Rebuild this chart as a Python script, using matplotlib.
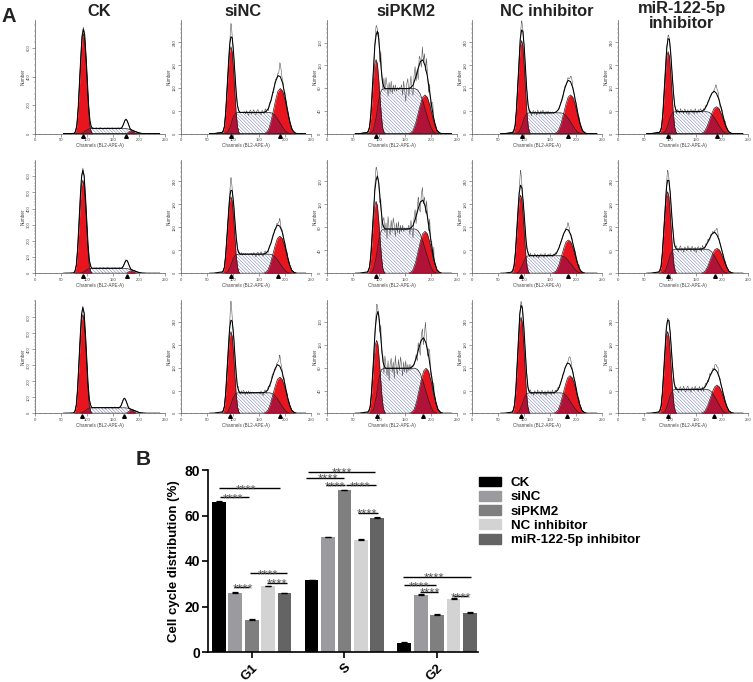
import numpy as np
import matplotlib
matplotlib.use('Agg')
import matplotlib.pyplot as plt
from matplotlib.patches import Patch

plt.rcParams['font.family'] = ['Liberation Sans', 'DejaVu Sans']
plt.rcParams['hatch.linewidth'] = 0.35

W, H = 753, 682

# ---- panel A, values, rows are the three repeats
columns = ['CK', 'siNC', 'siPKM2', 'NC inhibitor', 'miR-122-5p\ninhibitor']
title_x = [99, 243, 406, 547, 682]
title_y = [11, 11, 12, 12, 16]
col_left = [35, 181, 326.7, 472.2, 618.2]
row_base = [133.7, 273.3, 413.3]
row_top = [20, 160, 300]

# pixels per count on each y axis
ppu = [[0.143, 0.38, 0.57, 0.38, 0.38],
       [0.162, 0.383, 0.575, 0.383, 0.383],
       [0.160, 0.38, 0.57, 0.38, 0.38]]
yticks = [[[0, 200, 400, 600], [0, 60, 120, 180, 240], [0, 40, 80, 120, 160], [0, 60, 120, 180, 240], [0, 60, 120, 180, 240]],
          [[0, 100, 200, 300, 400, 500, 600], [0, 60, 120, 180, 240], [0, 40, 80, 120, 160], [0, 60, 120, 180, 240], [0, 60, 120, 180, 240]],
          [[0, 100, 200, 300, 400, 500, 600], [0, 60, 120, 180, 240], [0, 40, 80, 120, 160], [0, 60, 120, 180, 240], [0, 60, 120, 180, 240]]]

g1_pos = [[93, 96, 95, 95, 96], [92, 96, 95, 93, 95], [92, 96, 96, 94, 95]]
g1_red = [[700, 229, 130, 245, 216], [575, 200, 125, 204, 213], [618, 215, 128, 253, 215]]
g1_total = [[730, 255, 173, 273, 250], [635, 217, 162, 230, 243], [660, 245, 171, 284, 245]]
g1_raw = [[745, 290, 189, 297, 260], [650, 250, 184, 269, 269], [670, 295, 191, 295, 250]]
s_level = [[37, 56, 79, 55, 58], [31, 50, 77, 46, 63], [35, 54, 79, 54, 63]]
g2_pos = [[185, 191, 189, 189, 189], [185, 190, 189, 185, 190], [185, 190, 191, 188, 190]]
g2_red = [[20, 119, 68, 102, 71], [15, 97, 73, 87, 65], [20, 95, 79, 99, 74]]
g2_total = [[90, 150, 120, 137, 106], [72, 123, 118, 113, 100], [83, 124, 123, 129, 110]]
g2_raw = [[92, 180, 130, 152, 126], [76, 139, 129, 129, 115], [86, 146, 139, 149, 127]]
# second black triangle under the axis, None where the picture has none
g2_mark = [[175, 190, None, 185, 190], [176, 187, None, 185, 187], [172, 190, 186, 183, 184]]
g1_mark = [[93, 96, 95, 95, 96], [92, 96, 95, 93, 95], [91, 95, 96, 94, 95]]

# curve shapes (bell of a peak, shoulder of the S phase)
peak_off = [-14, -12, -10, -8, -6, -4, -2, 0, 2, 4, 6, 8, 10, 12, 14]
peak_shape = [0, 0.02, 0.08, 0.24, 0.48, 0.74, 0.94, 1, 0.94, 0.74, 0.48, 0.24, 0.08, 0.02, 0]
g1_widen = 1.25
g2_widen = 2.3
s_chan = [84, 90, 95, 100, 105, 110, 170, 175, 180, 185, 190, 195, 200, 205, 212]
s_shape = [0, 0.08, 0.35, 0.75, 0.97, 1, 1, 0.97, 0.88, 0.72, 0.52, 0.32, 0.15, 0.04, 0]
debris_chan = [62, 68, 74, 80, 84]
debris_frac = [0, 0.004, 0.01, 0.01, 0]

# jagged deviation of the raw trace around the fitted line, channel 100 up in steps of 2
jag = [0.3, -0.5, 0.6, -0.2, -1.0, 0.4, 0.8, -0.6, 0.2, 0.9, -0.3, -0.8, 0.5, 1.0, -0.4, 0.1, -0.9, 0.7,
       0.2, -0.5, 1.0, -0.2, 0.4, -0.7, 0.9, 0.1, -0.6, 0.6, -1.0, 0.3, 0.8, -0.3, 0.5, -0.8, 1.0, 0.0,
       -0.5, 0.7, -0.2, 0.9, 0.3, -0.6, 0.5, -0.3, 0.6, -0.4, 0.3, -0.2, 0.3, -0.2, 0.1, -0.1, 0.1, 0.0]
jag_start = 100
jag_step = 2

red = '#e8151f'
dark_red = '#b01238'
hatch_col = '#6f7bb0'
axis_col = '#555555'

# ---- panel B
groups = ['G1', 'S', 'G2']
series = ['CK', 'siNC', 'siPKM2', 'NC inhibitor', 'miR-122-5p inhibitor']
bar_colors = ['#000000', '#9b9b9f', '#7f7f7f', '#d3d3d3', '#646464']
means = [[66.0, 26.0, 14.2, 28.8, 25.8],
         [31.5, 50.4, 71.0, 49.2, 58.7],
         [4.0, 25.0, 16.2, 23.4, 17.2]]
errs = [[0.5, 0.4, 0.2, 0.4, 0.2],
        [0.1, 0.3, 0.3, 0.3, 0.6],
        [0.2, 0.7, 0.3, 0.2, 0.4]]
# group, from bar, to bar, height, where the stars sit (in bars)
brackets = [(0, 0.0, 3.73, 72.0, 1.63), (0, 0.06, 1.85, 68.0, 0.88), (0, 0.9, 1.85, 28.4, 1.45),
            (0, 1.9, 4.14, 34.6, 3.02), (0, 2.96, 4.14, 30.5, 3.55),
            (1, -0.2, 3.86, 79.3, 1.84), (1, -0.37, 1.98, 76.6, 0.98), (1, 0.9, 2.02, 73.3, 1.43),
            (1, 2.08, 3.9, 73.3, 2.96), (1, 2.8, 4.04, 61.2, 3.4),
            (2, -0.06, 4.04, 33.0, 1.82), (2, 0.0, 1.94, 29.4, 0.92), (2, 0.96, 2.06, 26.5, 1.57),
            (2, 2.96, 3.9, 24.6, 3.45)]


def px_axes(fig, left, top, right, bottom):
    return fig.add_axes([left / W, 1 - bottom / H, (right - left) / W, (bottom - top) / H])


def peak(grid, pos, height, scale=1.0):
    return height * np.interp(grid, pos + np.array(peak_off) * scale, peak_shape)


def histogram(ax, r, c, ymax):
    grid = np.arange(55, 240, 0.5)
    s = s_level[r][c] * np.interp(grid, s_chan, s_shape)
    g1 = peak(grid, g1_pos[r][c], g1_red[r][c], g1_widen)
    g2 = peak(grid, g2_pos[r][c], g2_red[r][c], g2_widen if c else 0.9)
    # the fitted total sits on top of the S phase
    s_at_g2 = s_level[r][c] * np.interp(g2_pos[r][c], s_chan, s_shape)
    s_at_g1 = s_level[r][c] * np.interp(g1_pos[r][c], s_chan, s_shape)
    g1_t = peak(grid, g1_pos[r][c], g1_total[r][c] - s_at_g1, g1_widen)
    hump_pos = g2_pos[r][c] if c else g2_mark[r][c]
    g2_t = peak(grid, hump_pos, g2_total[r][c] - s_at_g2, g2_widen if c else 0.8)
    debris = ymax * np.interp(grid, debris_chan, debris_frac) * (0.3 if c == 0 else 1)
    total = g1_t + s + g2_t + debris

    raw = total.copy()
    rolled = np.roll(jag, r * 7 + c * 11)
    amp = s_level[r][c] * (0.28 if c == 2 else 0.14)
    dev = np.interp(grid, jag_start + jag_step * np.arange(len(jag)), rolled, left=0, right=0)
    raw = raw + amp * dev
    raw = raw + peak(grid, g1_pos[r][c], g1_raw[r][c] - g1_total[r][c], 0.3)
    raw = raw + peak(grid, hump_pos, g2_raw[r][c] - g2_total[r][c], 0.5)
    raw = np.clip(raw, 0, None)

    ax.fill_between(grid, 0, s, facecolor='white', edgecolor=hatch_col, hatch='\\' * 10, lw=0, zorder=1)
    ax.fill_between(grid, 0, g1, color=red, lw=0, zorder=2)
    ax.fill_between(grid, 0, g2, color=red, lw=0, zorder=2)
    ax.fill_between(grid, 0, np.minimum(g1, s), color=dark_red, lw=0, zorder=3)
    ax.fill_between(grid, 0, np.minimum(g2, s), color=dark_red, lw=0, zorder=3)
    ax.plot(grid, raw, color='#555555', lw=0.4, zorder=4)
    for curve in (g1, g2, s):
        ax.plot(grid, curve, color='#222222', lw=0.5, zorder=5)
    ax.plot(grid, total, color='black', lw=0.75, zorder=6)

    for mark in (g1_mark[r][c], g2_mark[r][c]):
        if mark is not None:
            ax.plot([mark], [-0.022 * ymax], marker='^', ms=2.6, color='black', clip_on=False, zorder=7)


fig = plt.figure(figsize=(W / 100, H / 100), dpi=100)

for r in range(3):
    for c in range(5):
        left = col_left[c]
        ax = px_axes(fig, left, row_top[r], left + 130, row_base[r])
        ymax = (row_base[r] - row_top[r]) / ppu[r][c]
        histogram(ax, r, c, ymax)
        ax.set_xlim(0, 250)
        ax.set_ylim(0, ymax)
        ax.patch.set_alpha(0)
        for side in ('top', 'right'):
            ax.spines[side].set_visible(False)
        for side in ('left', 'bottom'):
            ax.spines[side].set_color(axis_col)
            ax.spines[side].set_linewidth(0.5)
        ax.set_xticks([0, 50, 100, 150, 200, 250])
        ax.set_xticks(np.arange(0, 251, 10), minor=True)
        ax.set_yticks(yticks[r][c])
        step = yticks[r][c][1]
        ax.set_yticks(np.arange(0, ymax, step / 5), minor=True)
        ax.tick_params(which='major', length=2, width=0.4, color=axis_col, labelsize=3, labelcolor='#444444', pad=1.2)
        ax.tick_params(which='minor', length=1, width=0.3, color=axis_col)
        ax.tick_params(axis='y', labelrotation=90)
        for t in ax.get_yticklabels():
            t.set_va('center')
        ax.set_xlabel('Channels (BL2-APE-A)', fontsize=3.3, color='#444444', labelpad=0.8)
        ax.set_ylabel('Number', fontsize=3.3, color='#444444', labelpad=0.5)

for name, x, y in zip(columns, title_x, title_y):
    fig.text(x / W, 1 - y / H, name, fontsize=11.8, fontweight='bold', ha='center', va='center',
             color='#222222', linespacing=0.92)

fig.text(2 / W, 1 - 22 / H, 'A', fontsize=14.5, fontweight='bold', color='#222222')
fig.text(136 / W, 1 - 465 / H, 'B', fontsize=15, fontweight='bold', color='#222222')

# ---- bar chart
pitch = 92.7
bar_step = 16.4 / pitch
bar_w = 13.7 / pitch
x_mid = 251.7
axb = px_axes(fig, 208.3, 470, 478, 652)
axb.set_xlim((208.3 - x_mid) / pitch, (478 - x_mid) / pitch)
axb.set_ylim(0, 80)
for i in range(5):
    xs = [g + (i - 2) * bar_step for g in range(3)]
    vals = [means[g][i] for g in range(3)]
    err = [errs[g][i] for g in range(3)]
    axb.bar(xs, vals, bar_w, color=bar_colors[i], yerr=[[0, 0, 0], err], ecolor='black',
            error_kw={'elinewidth': 0.9, 'capsize': 2.2, 'capthick': 0.9, 'clip_on': False})

for g, a, b, y, star in brackets:
    xa = g + (a - 2) * bar_step
    xb = g + (b - 2) * bar_step
    axb.plot([xa, xb], [y, y], color='black', lw=1.0, clip_on=False, solid_capstyle='butt')
    axb.annotate('****', (g + (star - 2) * bar_step, y), xytext=(0, -3.6), textcoords='offset points', ha='center',
                 va='baseline', fontsize=9.5, color='#555555', annotation_clip=False)

for side in ('top', 'right'):
    axb.spines[side].set_visible(False)
for side in ('left', 'bottom'):
    axb.spines[side].set_linewidth(1.2)
axb.set_xticks(range(3))
axb.set_xticklabels(groups, rotation=45, ha='right', rotation_mode='anchor', fontsize=9.5, fontweight='bold')
axb.set_yticks([0, 20, 40, 60, 80])
axb.tick_params(axis='y', width=1.2, length=4, labelsize=10, pad=2)
axb.tick_params(axis='x', width=1.2, length=4, pad=3)
for t in axb.get_yticklabels():
    t.set_fontweight('bold')
axb.set_ylabel('Cell cycle distribution (%)', fontsize=9.5, fontweight='bold', labelpad=3)

handles = [Patch(color=col, label=lab) for col, lab in zip(bar_colors, series)]
fig.legend(handles=handles, loc='upper left', bbox_to_anchor=(479 / W, 1 - 476.5 / H), borderaxespad=0, borderpad=0,
           frameon=False, prop={'size': 9.6, 'weight': 'bold'}, handlelength=1.67, handleheight=0.76,
           labelspacing=0.13, handletextpad=0.72)

fig.savefig('out.png', dpi=100)
